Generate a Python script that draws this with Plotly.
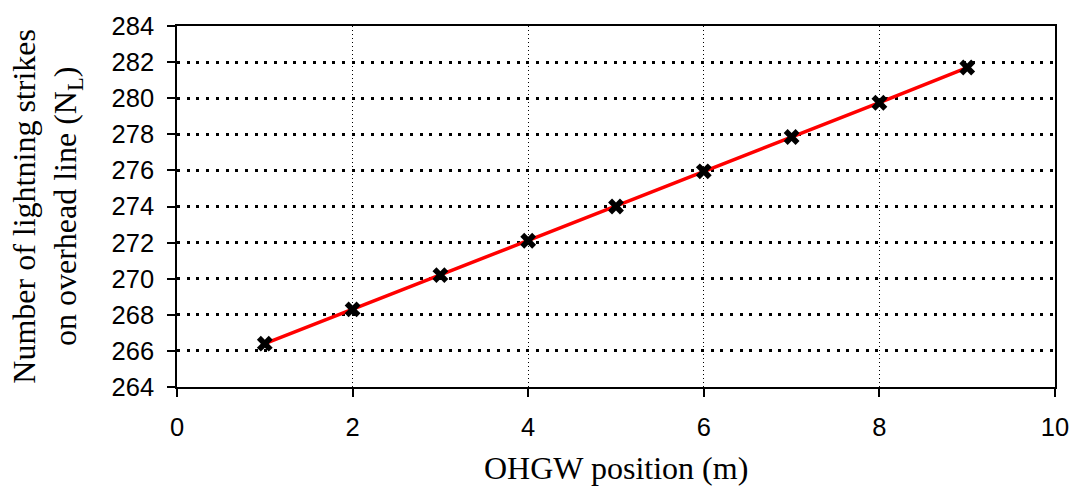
import plotly.graph_objects as go

# OHGW position along the tower (m) and resulting lightning strikes on the line
ohgw_position = [1, 2, 3, 4, 5, 6, 7, 8, 9]
strikes_nl = [266.4, 268.3, 270.2, 272.1, 274.0, 275.95, 277.85, 279.75, 281.7]

x_ticks = [0, 2, 4, 6, 8, 10]
y_ticks = [264, 266, 268, 270, 272, 274, 276, 278, 280, 282, 284]

fig = go.Figure()
fig.add_trace(go.Scatter(
    x=ohgw_position, y=strikes_nl,
    mode="lines+markers",
    line=dict(color="#ff0000", width=3.5),
    marker=dict(symbol="x", size=14, color="black", line=dict(width=0)),
    showlegend=False,
))

tick_font = dict(family="Liberation Sans, Arial, sans-serif", size=25.5, color="black")
title_font = dict(family="Liberation Serif, Times New Roman, serif", size=32, color="black")

fig.update_xaxes(
    range=[0, 10], tickvals=x_ticks, ticktext=[str(v) for v in x_ticks],
    showline=True, linecolor="black", linewidth=1.5, mirror=True,
    ticks="outside", ticklen=8, tickwidth=1.5, tickcolor="black",
    showgrid=True, gridcolor="black", gridwidth=1, griddash="1px,3px",
    zeroline=False, tickfont=tick_font, ticklabelstandoff=9,
)
fig.update_yaxes(
    range=[264, 284], tickvals=y_ticks, ticktext=[str(v) for v in y_ticks],
    showline=True, linecolor="black", linewidth=1.5, mirror=True,
    ticks="outside", ticklen=8, tickwidth=1.5, tickcolor="black",
    showgrid=True, gridcolor="black", gridwidth=3, griddash="3px,6.7px",
    zeroline=False, tickfont=tick_font, ticklabelstandoff=8,
)

fig.add_annotation(
    text="OHGW position (m)", xref="paper", yref="paper",
    x=0.5, y=-0.225, xanchor="center", yanchor="middle",
    showarrow=False, font=title_font,
)
fig.add_annotation(
    text="Number of lightning strikes<br>on overhead line (N<sub>L</sub>)",
    xref="paper", yref="paper", x=-0.149, y=0.5,
    xanchor="center", yanchor="middle", textangle=-90,
    showarrow=False, font=title_font,
)

fig.update_layout(
    width=1081, height=497,
    margin=dict(l=177, r=24, t=23, b=110),
    paper_bgcolor="white", plot_bgcolor="white",
)

fig.write_html("out.html")
